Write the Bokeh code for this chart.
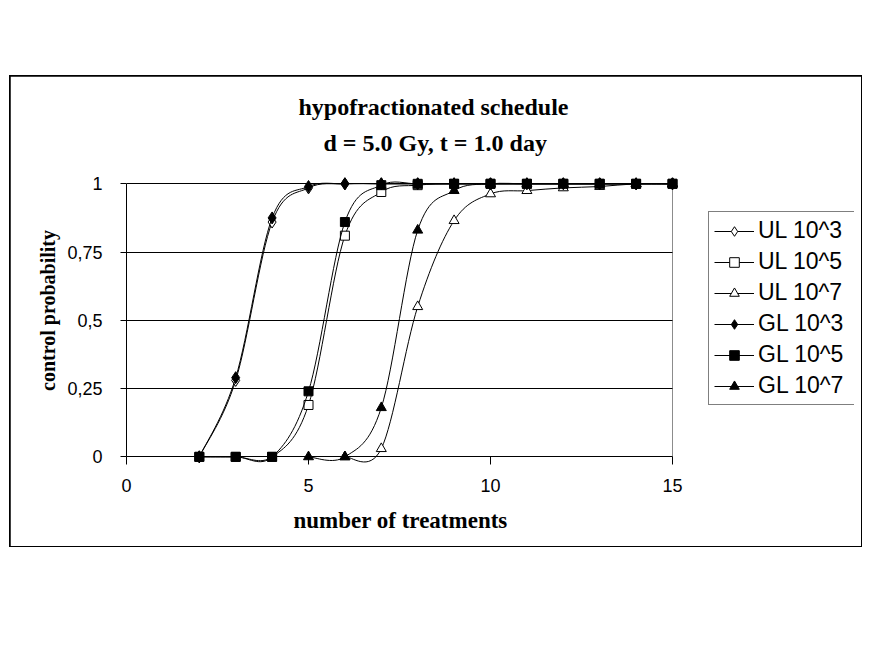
from bokeh.plotting import figure
from bokeh.models import Range1d, FixedTicker, Legend, LegendItem, Title
from bokeh.embed import file_html
from bokeh.resources import INLINE

# ---- data ----
x_ul3 = [2, 3, 4, 5, 6, 7, 8, 9, 10, 11, 12, 13, 14, 15]
y_ul3 = [0.0, 0.28, 0.86, 0.985, 1.0, 1.0, 1.0, 1.0, 1.0, 1.0, 1.0, 1.0, 1.0, 1.0]

x_ul5 = [2, 3, 4, 5, 6, 7, 8, 9, 10, 11, 12, 13, 14, 15]
y_ul5 = [0.0, 0.0, 0.0, 0.19, 0.81, 0.97, 0.995, 1.0, 1.0, 1.0, 1.0, 1.0, 1.0, 1.0]

x_ul7 = [6, 7, 8, 9, 10, 11, 12, 13, 14, 15]
y_ul7 = [0.0, 0.03, 0.55, 0.865, 0.963, 0.975, 0.985, 0.99, 1.0, 1.0]

x_gl3 = [2, 3, 4, 5, 6, 7, 8, 9, 10, 11, 12, 13, 14, 15]
y_gl3 = [0.0, 0.29, 0.875, 0.99, 1.0, 1.0, 1.0, 1.0, 1.0, 1.0, 1.0, 1.0, 1.0, 1.0]

x_gl5 = [2, 3, 4, 5, 6, 7, 8, 9, 10, 11, 12, 13, 14, 15]
y_gl5 = [0.0, 0.0, 0.0, 0.24, 0.86, 0.995, 1.0, 1.0, 1.0, 1.0, 1.0, 1.0, 1.0, 1.0]

x_gl7 = [5, 6, 7, 8, 9, 10, 11, 12, 13, 14, 15]
y_gl7 = [0.0, 0.0, 0.18, 0.83, 0.975, 1.0, 1.0, 1.0, 1.0, 1.0, 1.0]

series_labels = ["UL 10^3", "UL 10^5", "UL 10^7", "GL 10^3", "GL 10^5", "GL 10^7"]
x_ticks = [0, 5, 10, 15]
y_ticks = [0, 0.25, 0.5, 0.75, 1]
y_tick_labels = ["0", "0,25", "0,5", "0,75", "1"]

title_line1 = "hypofractionated schedule"
title_line2 = "d = 5.0 Gy, t = 1.0 day"
x_label = "number of treatments"
y_label = "control probability"

# ---- figure ----
p = figure(width=851, height=470,
           x_range=Range1d(0, 20), y_range=Range1d(-0.028, 1.10),
           output_backend="svg", toolbar_location=None,
           min_border_left=116, min_border_right=7,
           min_border_top=80, min_border_bottom=82)
p.margin = (76, 0, 0, 10)
p.styles = {"outline": "2px solid black", "outline-offset": "-1px"}
p.outline_line_color = None
p.background_fill_color = "white"
p.border_fill_color = "white"

# title (two centred lines; the added Title sits next to the frame)
p.title.text = title_line1
p.title.align = "left"
p.title.offset = 172
p.title.text_font = "Liberation Serif"
p.title.text_font_style = "bold"
p.title.text_font_size = "24px"
p.title.text_color = "black"
p.title.standoff = 14
t2 = Title(text=title_line2, align="left", offset=197,
           text_font="Liberation Serif", text_font_style="bold",
           text_font_size="24px", text_color="black", standoff=2)
p.add_layout(t2, "above")

# x axis (line drawn by the zero grid line, ticks reach up to it)
xa = p.xaxis[0]
xa.bounds = (0, 15)
xa.ticker = FixedTicker(ticks=x_ticks)
xa.axis_line_color = None
xa.minor_tick_line_color = None
xa.major_tick_in = 8
xa.major_tick_out = 0
xa.major_tick_line_color = "black"
xa.major_label_text_font = "Liberation Sans"
xa.major_label_text_font_size = "18px"
xa.major_label_text_color = "black"
xa.major_label_standoff = 14

# x axis title, centred under the 0..15 span
xt = Title(text=x_label, align="left", offset=167,
           text_font="Liberation Serif", text_font_style="bold",
           text_font_size="23px", text_color="black", standoff=22)
p.add_layout(xt, "below")

ya = p.yaxis[0]
ya.bounds = (0, 1)
ya.ticker = FixedTicker(ticks=y_ticks)
ya.major_label_overrides = {float(t): s for t, s in zip(y_ticks, y_tick_labels)}
ya.minor_tick_line_color = None
ya.major_tick_in = 0
ya.major_tick_out = 6
ya.axis_line_color = "black"
ya.major_tick_line_color = "black"
ya.major_label_text_font = "Liberation Sans"
ya.major_label_text_font_size = "18px"
ya.major_label_text_color = "black"
ya.major_label_standoff = 18
ya.axis_label = y_label
ya.axis_label_text_font = "Liberation Serif"
ya.axis_label_text_font_style = "bold"
ya.axis_label_text_font_size = "20px"
ya.axis_label_text_color = "black"
ya.axis_label_standoff = 5

# grid: horizontal black lines incl. zero line; grey right border at x = 15
p.xgrid.ticker = FixedTicker(ticks=[15])
p.xgrid.grid_line_color = "#8c8c8c"
p.xgrid.grid_line_width = 1
p.xgrid.cross_bounds = (0, 1)
p.ygrid.ticker = FixedTicker(ticks=y_ticks)
p.ygrid.grid_line_color = "black"
p.ygrid.grid_line_width = 1
p.ygrid.cross_bounds = (0, 15)


def smooth_segments(xs, ys):
    """Bezier control points (Catmull-Rom style, like a smoothed line)."""
    n = len(xs)
    out = {k: [] for k in ("x0", "y0", "x1", "y1", "cx0", "cy0", "cx1", "cy1")}
    for i in range(n - 1):
        xm, ym = (xs[i - 1], ys[i - 1]) if i > 0 else (xs[i], ys[i])
        xp, yp = (xs[i + 2], ys[i + 2]) if i + 2 < n else (xs[i + 1], ys[i + 1])
        out["x0"].append(xs[i]); out["y0"].append(ys[i])
        out["x1"].append(xs[i + 1]); out["y1"].append(ys[i + 1])
        out["cx0"].append(xs[i] + (xs[i + 1] - xm) / 6.0)
        out["cy0"].append(ys[i] + (ys[i + 1] - ym) / 6.0)
        out["cx1"].append(xs[i + 1] - (xp - xs[i]) / 6.0)
        out["cy1"].append(ys[i + 1] - (yp - ys[i]) / 6.0)
    return out


series = [
    (x_ul3, y_ul3, "diamond", 12, "white"),
    (x_ul5, y_ul5, "square", 9, "white"),
    (x_ul7, y_ul7, "triangle", 10, "white"),
    (x_gl3, y_gl3, "diamond", 12, "black"),
    (x_gl5, y_gl5, "square", 9, "black"),
    (x_gl7, y_gl7, "triangle", 10, "black"),
]

items = []
for (xs, ys, mk, sz, fill), lab in zip(series, series_labels):
    seg = smooth_segments(xs, ys)
    b = p.bezier(x0=seg["x0"], y0=seg["y0"], x1=seg["x1"], y1=seg["y1"],
                 cx0=seg["cx0"], cy0=seg["cy0"], cx1=seg["cx1"], cy1=seg["cy1"],
                 line_color="black", line_width=1)
    s = p.scatter(xs, ys, marker=mk, size=sz, fill_color=fill,
                  line_color="black", line_width=1)
    items.append(LegendItem(label=lab, renderers=[b, s]))

legend = Legend(items=items, location=(582, 59),
                border_line_color="black", border_line_width=1,
                background_fill_color="white", background_fill_alpha=1,
                padding=5, spacing=4, margin=0,
                glyph_width=40, glyph_height=24, label_height=24, label_width=93,
                label_standoff=4,
                label_text_font="Liberation Sans", label_text_font_size="23px",
                label_text_color="black")
p.add_layout(legend, "center")

open("out.html", "w").write(file_html(p, INLINE))
